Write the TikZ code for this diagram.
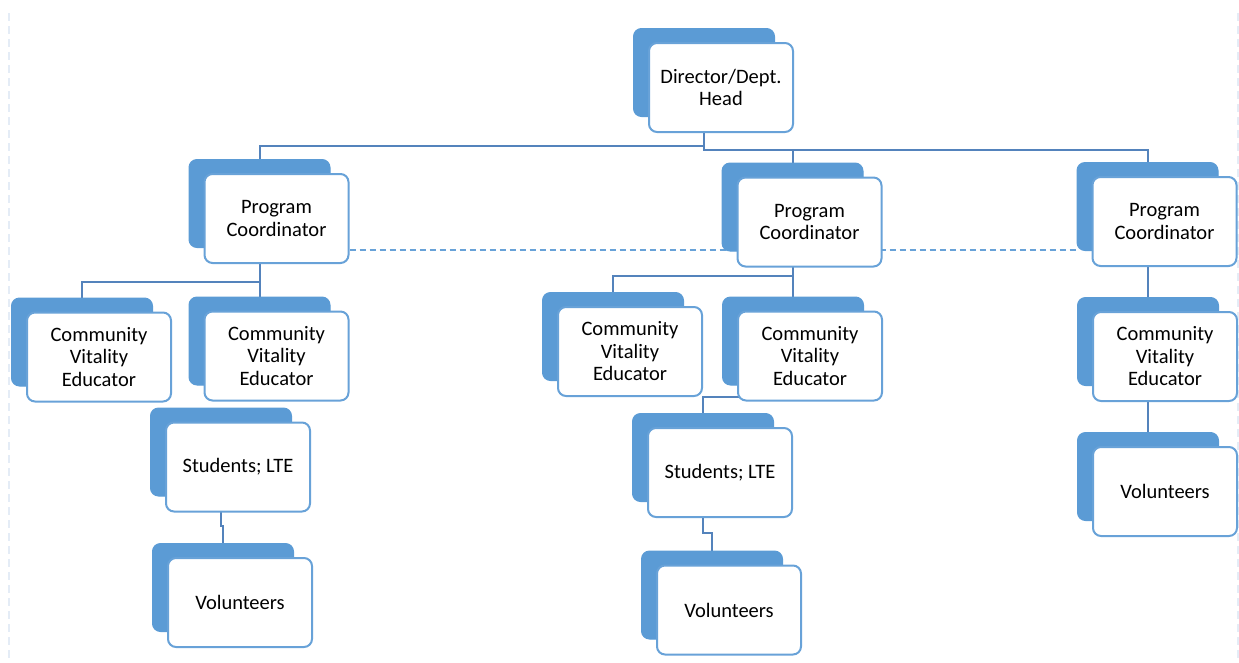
\documentclass[tikz,border=0pt]{standalone}
\usepackage{fontspec}
\setmainfont{Carlito}
\usetikzlibrary{backgrounds}
\definecolor{backblue}{RGB}{91,155,213}
\definecolor{edgeblue}{RGB}{104,162,216}
\definecolor{connblue}{RGB}{84,131,188}
\definecolor{framecol}{RGB}{228,236,246}
\begin{document}
\begin{tikzpicture}[x=1pt,y=-1pt,
  backbox/.style={fill=backblue, draw=backblue, line width=1pt, rounded corners=8pt,
    minimum width=141pt, minimum height=88pt, inner sep=0pt},
  frontbox/.style={fill=white, draw=edgeblue, line width=2pt, rounded corners=8pt,
    minimum width=144pt, minimum height=89pt, align=center, inner sep=0pt,
    font=\fontsize{20.5}{22.5}\selectfont, text=black},
  conn/.style={draw=connblue, line width=2pt},
  peer/.style={draw=edgeblue, line width=1.2pt, dash pattern=on 6pt off 4pt},
  framedash/.style={draw=framecol, line width=1.5pt, dash pattern=on 8pt off 5pt}]
\useasboundingbox (0,0) rectangle (1239,662);
\newcommand\orgbox[4]{%
  \node[backbox] (#1B) at (#2-17,#3-15) {};
  \node[frontbox] (#1F) at (#2,#3) {#4};}
% faint frame
\draw[framedash] (9,13) -- (9,662);
\draw[framedash] (1238,13) -- (1238,662);
% boxes
\orgbox{dir}{721}{87.5}{Director/Dept.\\Head}
\orgbox{pcL}{276.5}{218.5}{Program\\Coordinator}
\orgbox{pcM}{809.5}{222}{Program\\Coordinator}
\orgbox{pcR}{1164.5}{221.5}{Program\\Coordinator}
\orgbox{cveLa}{99}{357}{Community\\Vitality\\Educator}
\orgbox{cveLb}{276.5}{356}{Community\\Vitality\\Educator}
\orgbox{cveMa}{630}{351.5}{Community\\Vitality\\Educator}
\orgbox{cveMb}{810}{356}{Community\\Vitality\\Educator}
\orgbox{cveR}{1165}{356.5}{Community\\Vitality\\Educator}
\orgbox{stuL}{238}{467}{Students; LTE}
\orgbox{volL}{240}{602.5}{Volunteers}
\orgbox{stuM}{720}{472.5}{Students; LTE}
\orgbox{volM}{729}{610}{Volunteers}
\orgbox{volR}{1165}{491.5}{Volunteers}
% bar levels
\coordinate (bTopL) at (0,146);
\coordinate (bTopR) at (0,150);
\coordinate (bL) at (0,282);
\coordinate (bM) at (0,276);
\coordinate (bR) at (0,285);
\coordinate (bMs) at (0,397);
\coordinate (bRv) at (0,425);
\coordinate (bLv) at (0,526);
\coordinate (bMv) at (0,533);
\coordinate (dashy) at (0,250);
\begin{pgfonlayer}{background}
  \draw[conn] (dirB.center) |- (bTopL -| pcLB.center) -- (pcLB.center);
  \draw[conn] (dirB.center) |- (bTopR -| pcMB.center) -- (pcMB.center);
  \draw[conn] (dirB.center) |- (bTopR -| pcRB.center) -- (pcRB.center);
  \draw[conn] (pcLB.center) |- (bL -| cveLaB.center) -- (cveLaB.center);
  \draw[conn] (pcLB.center) |- (bL -| cveLbB.center) -- (cveLbB.center);
  \draw[conn] (pcMB.center) |- (bM -| cveMaB.center) -- (cveMaB.center);
  \draw[conn] (pcMB.center) |- (bM -| cveMbB.center) -- (cveMbB.center);
  \draw[conn] (pcRB.center) |- (bR -| cveRB.center) -- (cveRB.center);
  \draw[conn] (cveMbB.center) |- (bMs -| stuMB.center) -- (stuMB.center);
  \draw[conn] (cveRB.center) |- (bRv -| volRB.center) -- (volRB.center);
  \draw[conn] (stuLB.center) |- (bLv -| volLB.center) -- (volLB.center);
  \draw[conn] (stuMB.center) |- (bMv -| volMB.center) -- (volMB.center);
  \draw[peer] (pcLF.east |- dashy) -- (pcRB.west |- dashy);
\end{pgfonlayer}
\end{tikzpicture}
\end{document}
